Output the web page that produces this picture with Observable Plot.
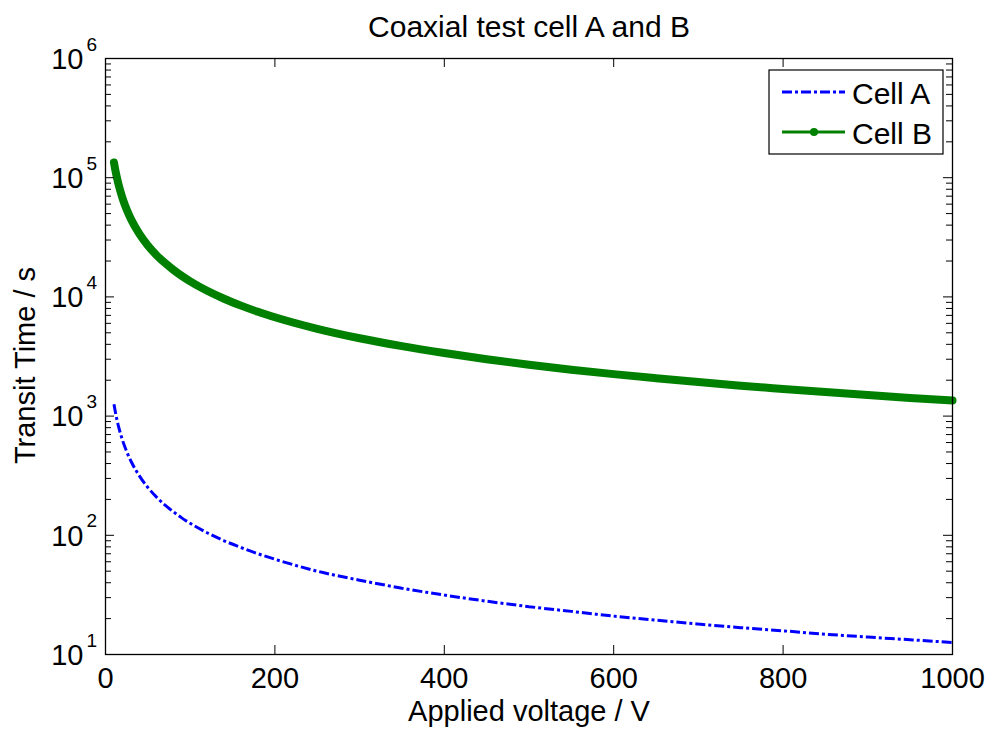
<!DOCTYPE html>
<html><head><meta charset="utf-8">
<script src="https://cdn.jsdelivr.net/npm/d3@7"></script>
<script src="https://cdn.jsdelivr.net/npm/@observablehq/plot@0.6"></script>
<style>
body{margin:0;background:#fff}
#c{position:relative;width:993px;height:729px;font-family:"Liberation Sans",Arial,sans-serif}
#c svg{position:absolute;left:0;top:0}
</style>
</head><body><div id="c"></div>
<script>
// Data
const voltage = [10,12,15,20,25,30,40,50,60,70,80,90,100,120,140,160,180,200,250,300,350,400,450,500,550,600,650,700,750,800,850,900,950,1000];
const cellA   = [1260,1050,840,630,505,420,315,252,210,180,158,140,126,105,90,79,70,63,50,42,36,31.5,28,25.2,23,21,19.4,18,16.8,15.8,14.8,14,13.3,12.6];
const cellB   = [134000,112000,90000,67500,54000,45000,33800,27000,22500,19300,16900,15000,13500,11250,9650,8450,7500,6750,5400,4500,3860,3380,3000,2700,2450,2250,2080,1930,1800,1690,1590,1500,1420,1350];
const seriesNames = ["Cell A","Cell B"];
const seriesColors = ["#0000ff","#008000"];
const xTicks = [0,200,400,600,800,1000];
const yTicks = [1e1,1e2,1e3,1e4,1e5,1e6];
const titleText = "Coaxial test cell A and B";
const xLabel = "Applied voltage / V";
const yLabel = "Transit Time / s";

const W = 993, H = 729;
const mL = 105, mR = 41, mT = 58, mB = 75;
const innerW = W - mL - mR, innerH = H - mT - mB;
const minorTicks = [];
for (let e = 1; e <= 5; e++) for (let m = 2; m <= 9; m++) minorTicks.push(m * Math.pow(10, e));

const rowsA = voltage.map((v, i) => ({v, t: cellA[i]}));
const rowsB = voltage.map((v, i) => ({v, t: cellB[i]}));
const font = 29;
const dash = "10,3,3,3";

const chart = Plot.plot({
  width: W, height: H,
  marginLeft: mL, marginRight: mR, marginTop: mT, marginBottom: mB,
  style: {fontFamily: '"Liberation Sans", Arial, sans-serif', background: "white", color: "black"},
  x: {domain: [0, 1000], axis: null},
  y: {type: "log", domain: [10, 1e6], axis: null},
  marks: [
    // data
    Plot.line(rowsB, {x: "v", y: "t", stroke: seriesColors[1], strokeWidth: 8, strokeLinecap: "round", strokeLinejoin: "round", curve: "monotone-x"}),
    Plot.line(rowsA, {x: "v", y: "t", stroke: seriesColors[0], strokeWidth: 3, strokeDasharray: dash, strokeLinecap: "butt", strokeLinejoin: "miter", curve: "monotone-x"}),
    // ticks (inward, all four sides)
    Plot.tickY(yTicks, {y: d => d, insetRight: innerW - 9, stroke: "black"}),
    Plot.tickY(yTicks, {y: d => d, insetLeft: innerW - 9, stroke: "black"}),
    Plot.tickY(minorTicks, {y: d => d, insetRight: innerW - 6, stroke: "black"}),
    Plot.tickY(minorTicks, {y: d => d, insetLeft: innerW - 6, stroke: "black"}),
    Plot.tickX(xTicks, {x: d => d, insetTop: innerH - 9, stroke: "black"}),
    Plot.tickX(xTicks, {x: d => d, insetBottom: innerH - 9, stroke: "black"}),
    Plot.frame({stroke: "black", strokeWidth: 1.3}),
    // tick labels
    Plot.text(xTicks, {x: d => d, frameAnchor: "bottom", dy: 24, lineAnchor: "middle", textAnchor: "middle", text: d => String(d), fontSize: font, fill: "black"}),
    Plot.text(yTicks, {y: d => d, frameAnchor: "left", dx: -22, dy: 1, textAnchor: "end", lineAnchor: "middle", text: () => "10", fontSize: font, fill: "black"}),
    Plot.text(yTicks, {y: d => d, frameAnchor: "left", dx: -19, dy: -14, textAnchor: "start", lineAnchor: "middle", text: d => String(Math.round(Math.log10(d))), fontSize: 19, fill: "black"}),
    // title and axis labels
    Plot.text([titleText], {frameAnchor: "top", dy: -31, lineAnchor: "middle", textAnchor: "middle", text: d => d, fontSize: 30, fill: "black"}),
    Plot.text([xLabel], {frameAnchor: "bottom", dy: 57, lineAnchor: "middle", textAnchor: "middle", text: d => d, fontSize: font, fill: "black"}),
    Plot.text([yLabel], {frameAnchor: "left", dx: -80, dy: 9, rotate: -90, lineAnchor: "middle", textAnchor: "middle", text: d => d, fontSize: font, fill: "black"})
  ]
});
document.getElementById("c").appendChild(chart);

// legend overlay
const lg = d3.select("#c").append("svg").attr("width", W).attr("height", H).style("pointer-events", "none");
lg.append("rect").attr("x", 769).attr("y", 70).attr("width", 174).attr("height", 84)
  .attr("fill", "white").attr("stroke", "black").attr("stroke-width", 1.2);
const rowsY = [92, 132];
seriesNames.forEach((name, i) => {
  const y = rowsY[i];
  const l = lg.append("line").attr("x1", 782).attr("x2", 845).attr("y1", y).attr("y2", y)
    .attr("stroke", seriesColors[i]).attr("stroke-width", 3);
  if (i === 0) l.attr("stroke-dasharray", dash);
  else lg.append("circle").attr("cx", 814).attr("cy", y).attr("r", 4).attr("fill", seriesColors[i]);
  lg.append("text").attr("x", 852).attr("y", y + 12).attr("font-size", 30)
    .attr("font-family", '"Liberation Sans", Arial, sans-serif').attr("fill", "black").text(name);
});
</script></body></html>
